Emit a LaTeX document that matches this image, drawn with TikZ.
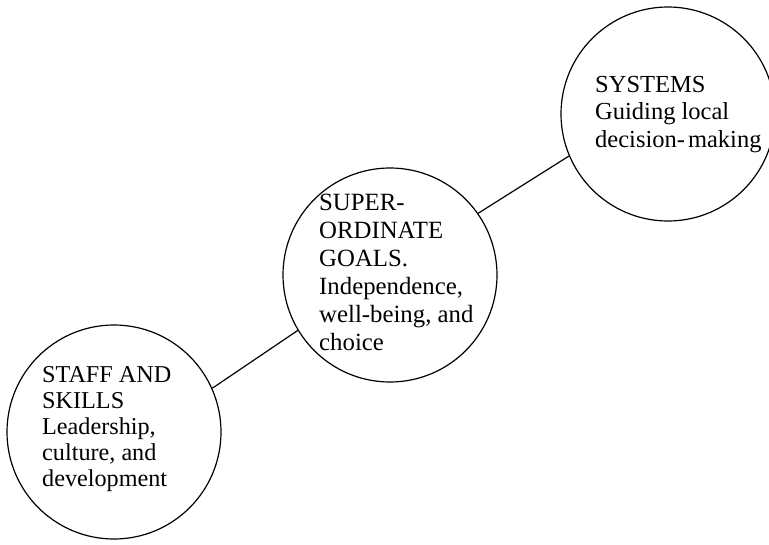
\documentclass[tikz,border=0pt]{standalone}
\usepackage{fontspec}
\setmainfont{Liberation Serif}
\begin{document}
\begin{tikzpicture}[x=1pt,y=-1pt,
  ring/.style={circle,draw,line width=1.2pt,inner sep=0pt,minimum size=214pt},
  link/.style={line width=1.2pt},
  txt/.style={anchor=base west,inner sep=0pt,align=left}]
\useasboundingbox (0,0) rectangle (769,544);
\node[ring] (c1) at (114,432) {};
\node[ring] (c2) at (390,275) {};
\node[ring] (c3) at (668,114) {};
\node[txt,font=\fontsize{24.2}{26}\selectfont] (t1) at (42,486) {STAFF AND\\SKILLS\\Leadership,\\culture, and\\development};
\node[txt,font=\fontsize{24.8}{28}\selectfont] (t2) at (319,350) {SUPER-\\ORDINATE\\GOALS.\\Independence,\\well-being, and\\choice};
\node[txt,font=\fontsize{24.5}{27.3}\selectfont] (t3) at (595,147) {SYSTEMS\\Guiding local\\decision-\kern3pt making};
\draw[link] (c1.24.6) -- (c2.211.6);
\draw[link] (c2.35.2) -- (c3.203.5);
\end{tikzpicture}
\end{document}
